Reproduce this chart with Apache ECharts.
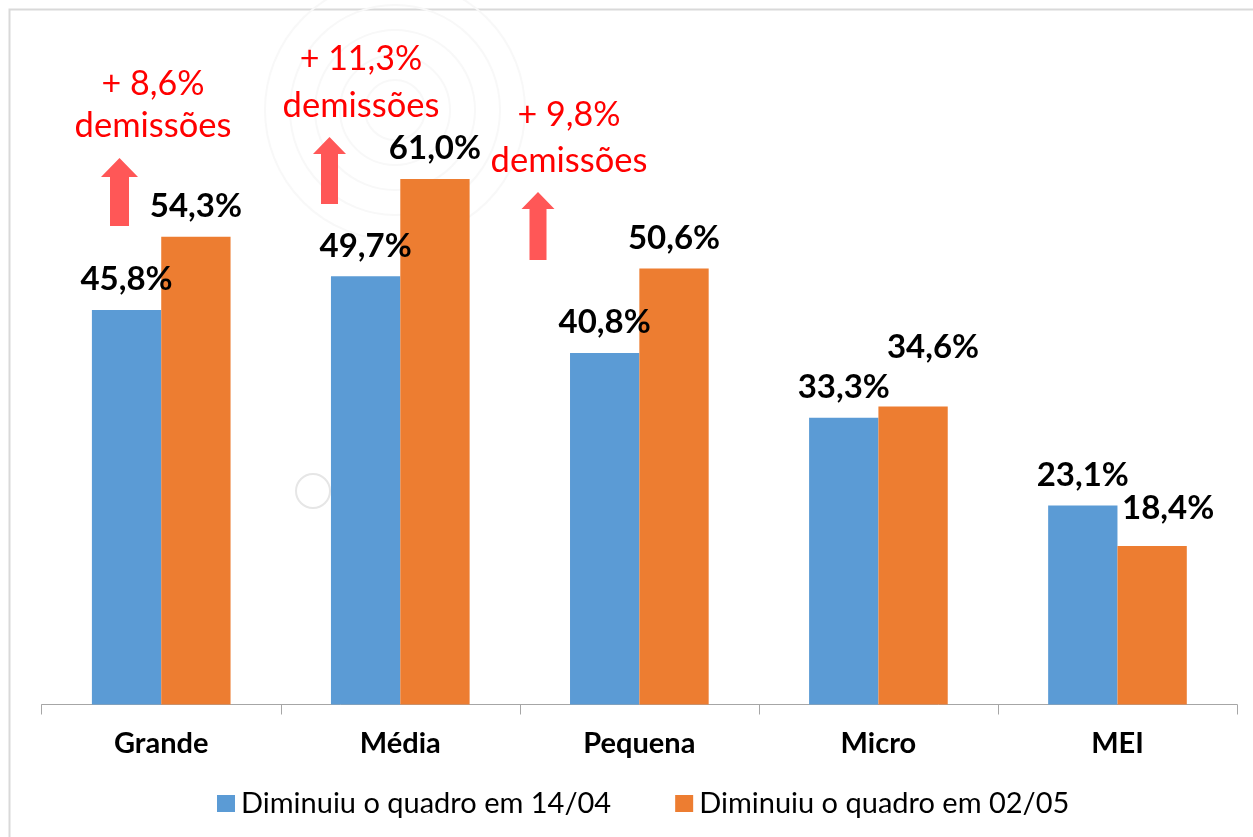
<!DOCTYPE html>
<html>
<head>
<meta charset="utf-8">
<script src="https://cdn.jsdelivr.net/npm/echarts@6/dist/echarts.min.js"></script>
<style>
  html, body { margin: 0; padding: 0; background: #fff; }
  #main { width: 1253px; height: 837px; }
</style>
</head>
<body>
<div id="main"></div>
<script>
var categories = ['Grande', 'Média', 'Pequena', 'Micro', 'MEI'];
var seriesNames = ['Diminuiu o quadro em 14/04', 'Diminuiu o quadro em 02/05'];
var valuesApr = [45.8, 49.7, 40.8, 33.3, 23.1];
var valuesMay = [54.3, 61.0, 50.6, 34.6, 18.4];
var notes = ['+ 8,6%', '+ 11,3%', '+ 9,8%'];
var noteWord = 'demissões';

var chart = echarts.init(document.getElementById('main'));

// posições das anotações (texto vermelho + seta)
var noteLayout = [
    { x: 153, y1: 84, y2: 126, ax: 119.5, top: 158, base: 177, bottom: 226, hw: 18.5, sw: 9.5 },
    { x: 361, y1: 59, y2: 106, ax: 329.5, top: 137, base: 154, bottom: 204, hw: 16.5, sw: 8.5 },
    { x: 569, y1: 115, y2: 161, ax: 538, top: 192, base: 209, bottom: 260, hw: 16.5, sw: 8.5 }
];

function fmt(v) {
    return v.toFixed(1).replace('.', ',') + '%';
}

var graphics = [
    { type: 'rect', z: -10, shape: { x: 9.5, y: 9.5, width: 1260, height: 840 },
      style: { fill: 'none', stroke: '#d9d9d9', lineWidth: 2 } },
    { type: 'circle', z: -10, shape: { cx: 313, cy: 491, r: 17 },
      style: { fill: 'none', stroke: '#e6e6e6', lineWidth: 2 } }
];
[30, 55, 80, 105, 130].forEach(function (r) {
    graphics.push({ type: 'circle', z: -10, shape: { cx: 395, cy: 110, r: r },
        style: { fill: 'none', stroke: '#f8f8f8', lineWidth: 2 } });
});
notes.forEach(function (t, i) {
    var p = noteLayout[i];
    graphics.push({ type: 'text', x: p.x, y: p.y1,
        style: { text: t, fill: '#ff0000', font: '34px Lato', align: 'center', verticalAlign: 'middle' } });
    graphics.push({ type: 'text', x: p.x, y: p.y2,
        style: { text: noteWord, fill: '#ff0000', font: '34.5px Lato', align: 'center', verticalAlign: 'middle' } });
    graphics.push({ type: 'polygon', shape: { points: [
        [p.ax, p.top], [p.ax + p.hw, p.base], [p.ax + p.sw, p.base], [p.ax + p.sw, p.bottom],
        [p.ax - p.sw, p.bottom], [p.ax - p.sw, p.base], [p.ax - p.hw, p.base]
    ] }, style: { fill: '#ff5757' } });
});

var option = {
    animation: false,
    backgroundColor: '#ffffff',
    textStyle: { fontFamily: 'Lato' },
    grid: { left: 41.7, right: 16, top: 101.5, bottom: 132.5 },
    legend: {
        data: seriesNames,
        left: 212, top: 784,
        itemWidth: 18, itemHeight: 17, itemGap: 64,
        icon: 'rect',
        textStyle: { fontSize: 29, color: '#000', fontFamily: 'Lato', padding: [0, 0, 0, 1] }
    },
    xAxis: {
        type: 'category',
        data: categories,
        axisLine: { lineStyle: { color: '#a6a6a6', width: 1 } },
        axisTick: { show: true, length: 10, lineStyle: { color: '#a6a6a6', width: 1 } },
        axisLabel: { fontSize: 29, fontWeight: 'bold', color: '#000', margin: 25 }
    },
    yAxis: {
        type: 'value', min: 0, max: 70,
        show: false
    },
    graphic: graphics,
    series: [
        {
            name: seriesNames[0], type: 'bar', data: valuesApr,
            barGap: '0%', barCategoryGap: '42%',
            itemStyle: { color: '#5b9bd5' },
            label: { show: true, position: 'top', distance: 14, fontSize: 33, fontWeight: 'bold', color: '#000',
                     formatter: function (p) { return fmt(p.value); } }
        },
        {
            name: seriesNames[1], type: 'bar',
            data: valuesMay.map(function (v, i) {
                if (i === 3) return { value: v, label: { offset: [20, -29] } };
                if (i === 4) return { value: v, label: { offset: [16, -7] } };
                return v;
            }),
            itemStyle: { color: '#ed7d31' },
            label: { show: true, position: 'top', distance: 14, fontSize: 33, fontWeight: 'bold', color: '#000',
                     formatter: function (p) { return fmt(p.value); } }
        }
    ]
};
chart.setOption(option);
</script>
</body>
</html>
